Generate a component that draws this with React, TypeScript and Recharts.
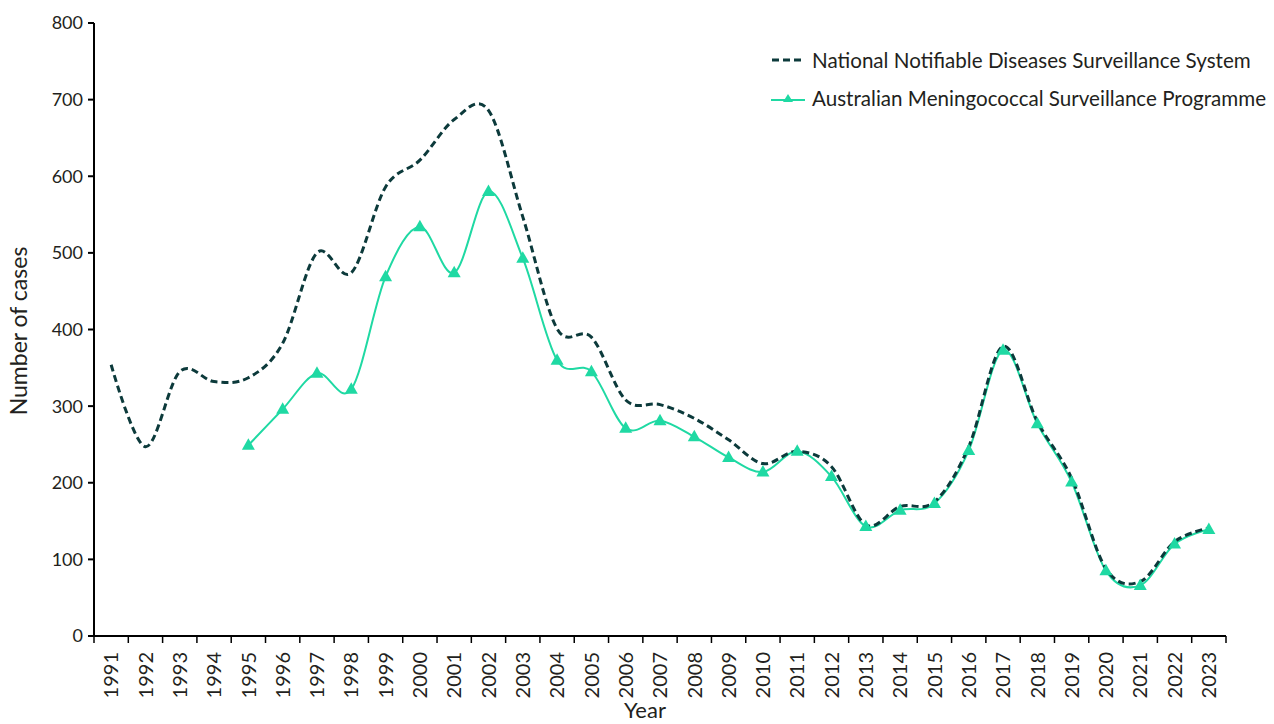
import { Line, LineChart, XAxis, YAxis } from "recharts"

const years = [
  "1991", "1992", "1993", "1994", "1995", "1996", "1997", "1998", "1999", "2000", "2001",
  "2002", "2003", "2004", "2005", "2006", "2007", "2008", "2009", "2010", "2011", "2012",
  "2013", "2014", "2015", "2016", "2017", "2018", "2019", "2020", "2021", "2022", "2023",
]

// National Notifiable Diseases Surveillance System
const nndss = [
  354, 247, 345, 332, 337, 382, 500, 474, 586, 621, 674,
  686, 547, 401, 390, 308, 302, 284, 256, 225, 241, 221,
  145, 169, 175, 247, 378, 280, 206, 88, 71, 123, 141,
]

// Australian Meningococcal Surveillance Programme (starts 1995)
const amsp = [
  null, null, null, null, 249, 296, 343, 322, 469, 534, 474,
  580, 493, 360, 345, 271, 281, 260, 233, 214, 241, 208,
  143, 164, 173, 242, 373, 277, 201, 85, 66, 120, 139,
]

const yTicks = [0, 100, 200, 300, 400, 500, 600, 700, 800]

const data = years.map((year, i) => ({ year, nndss: nndss[i], amsp: amsp[i] }))

const WIDTH = 1274
const HEIGHT = 724
const Y_AXIS_W = 94
const RIGHT = 48
const BAND = (WIDTH - Y_AXIS_W - RIGHT) / years.length

const DARK = "#0c3a3b"
const TEAL = "#1fd9a3"
const TEXT = "#231f20"
const FONT = "Lato, 'Open Sans', sans-serif"

// smooth curve through the points (catmull-rom, like the spreadsheet "smoothed line")
function smoothCurve(context: any) {
  const k = 1 / 6
  let x0 = NaN, y0 = NaN, x1 = NaN, y1 = NaN, x2 = NaN, y2 = NaN
  let pt = 0
  let line: number = NaN
  const seg = (x: number, y: number) => {
    context.bezierCurveTo(
      x1 + k * (x2 - x0), y1 + k * (y2 - y0),
      x2 + k * (x1 - x), y2 + k * (y1 - y),
      x2, y2,
    )
  }
  return {
    areaStart() { line = 0 },
    areaEnd() { line = NaN },
    lineStart() { x0 = x1 = x2 = y0 = y1 = y2 = NaN; pt = 0 },
    lineEnd() {
      if (pt === 2) context.lineTo(x2, y2)
      else if (pt === 3) seg(x1, y1)
      if (line || (line !== 0 && pt === 1)) context.closePath()
      line = 1 - line
    },
    point(x: number, y: number) {
      x = +x; y = +y
      switch (pt) {
        case 0: pt = 1; if (line) context.lineTo(x, y); else context.moveTo(x, y); break
        case 1: pt = 2; x1 = x; y1 = y; break
        case 2: pt = 3; seg(x, y); break
        default: seg(x, y)
      }
      x0 = x1; x1 = x2; x2 = x
      y0 = y1; y1 = y2; y2 = y
    },
  }
}

const Triangle = (props: any) => {
  const { cx, cy, index } = props
  if (cx == null || cy == null || props.value == null) return <g key={`t-${index}`} />
  return (
    <path
      key={`t-${index}`}
      d={`M${cx},${cy - 7} L${cx + 6.5},${cy + 4.5} L${cx - 6.5},${cy + 4.5} Z`}
      fill={TEAL}
    />
  )
}

const YearTick = (props: any) => {
  const { x, y, payload, index } = props
  const last = index === years.length - 1
  return (
    <g transform={`translate(${x},${y})`}>
      <line x1={-BAND / 2} x2={-BAND / 2} y1={0} y2={7} stroke="#000" strokeWidth={1.5} />
      {last && <line x1={BAND / 2} x2={BAND / 2} y1={0} y2={7} stroke="#000" strokeWidth={1.5} />}
      <text
        transform="rotate(-90)"
        x={-16}
        y={0}
        dy="0.36em"
        textAnchor="end"
        fill={TEXT}
        fontSize={20}
        fontFamily={FONT}
      >
        {payload.value}
      </text>
    </g>
  )
}

const App = () => {
  return (
    <div style={{ position: "absolute", left: 0, top: 0, width: WIDTH, height: HEIGHT, background: "#fff" }}>
      <LineChart width={WIDTH} height={HEIGHT} data={data} margin={{ top: 23, right: RIGHT, left: 0, bottom: 0 }}>
        <XAxis
          dataKey="year"
          interval={0}
          height={88}
          padding={{ left: BAND / 2, right: BAND / 2 }}
          stroke="#000"
          strokeWidth={2}
          tickLine={false}
          tickSize={0}
          tickMargin={0}
          tick={<YearTick />}
        />
        <YAxis
          width={Y_AXIS_W}
          domain={[0, 800]}
          ticks={yTicks}
          stroke="#000"
          strokeWidth={2}
          tickSize={6}
          tickMargin={5}
          tick={{ fill: TEXT, fontSize: 18, fontFamily: FONT }}
        />
        <Line
          dataKey="amsp"
          type={smoothCurve as any}
          stroke={TEAL}
          strokeWidth={2}
          dot={false}
          activeDot={false}
          isAnimationActive={false}
        />
        <Line
          dataKey="nndss"
          type={smoothCurve as any}
          stroke={DARK}
          strokeWidth={3}
          strokeDasharray="7 4"
          dot={false}
          activeDot={false}
          isAnimationActive={false}
        />
        <Line
          dataKey="amsp"
          stroke="none"
          dot={Triangle}
          activeDot={false}
          isAnimationActive={false}
        />
      </LineChart>

      {/* axis titles */}
      <div
        style={{
          position: "absolute", left: 18, top: 331, transform: "translate(-50%, -50%) rotate(-90deg)",
          whiteSpace: "nowrap", fontFamily: FONT, fontSize: 23, color: TEXT,
        }}
      >
        Number of cases
      </div>
      <div
        style={{
          position: "absolute", left: 645, top: 710, transform: "translate(-50%, -50%)",
          fontFamily: FONT, fontSize: 22, lineHeight: "24px", color: TEXT,
        }}
      >
        Year
      </div>

      {/* legend */}
      <div style={{ position: "absolute", left: 771, top: 44, fontFamily: FONT, fontSize: 20.6, color: TEXT }}>
        <div style={{ display: "flex", alignItems: "center", height: 32 }}>
          <svg width={34} height={10} style={{ marginRight: 7 }}>
            <line x1={1} x2={33} y1={5} y2={5} stroke={DARK} strokeWidth={3} strokeDasharray="7 4" />
          </svg>
          <span>National Notifiable Diseases Surveillance System</span>
        </div>
        <div style={{ display: "flex", alignItems: "center", height: 44 }}>
          <svg width={34} height={14} style={{ marginRight: 7 }}>
            <line x1={0} x2={34} y1={9} y2={9} stroke={TEAL} strokeWidth={2} />
            <path d="M17,3 L22,11 L12,11 Z" fill={TEAL} />
          </svg>
          <span>Australian Meningococcal Surveillance Programme</span>
        </div>
      </div>
    </div>
  )
}

export default App
